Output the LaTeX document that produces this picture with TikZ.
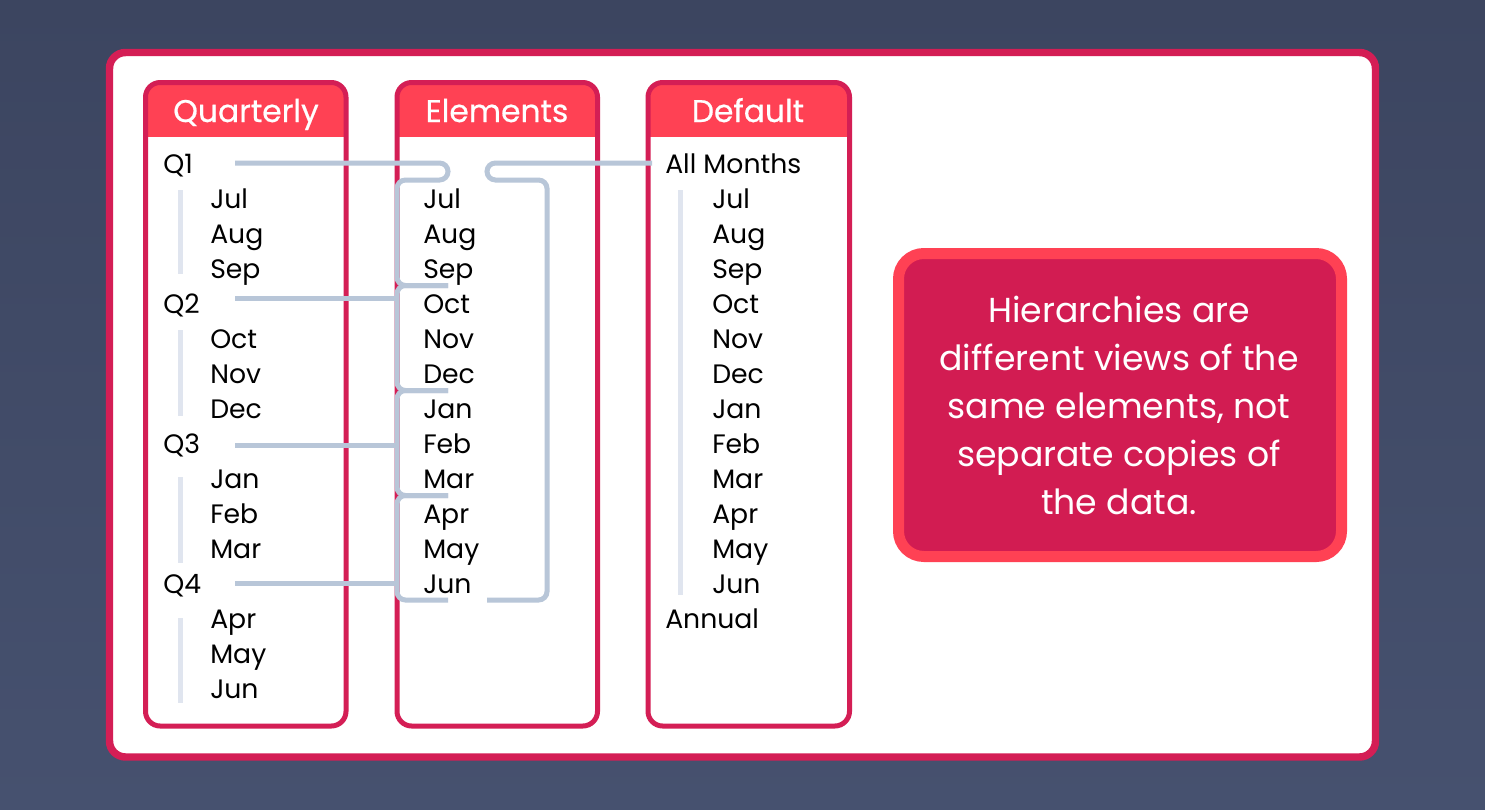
\documentclass[tikz,border=0pt]{standalone}
\usepackage{fontspec}
\setmainfont{Poppins}
\newfontfamily\headfont[FakeBold=0.6]{Poppins}
\usetikzlibrary{calc}

\definecolor{bgtop}{HTML}{3C4560}
\definecolor{bgbot}{HTML}{46516F}
\definecolor{crimson}{HTML}{D41E55}
\definecolor{coral}{HTML}{FF4154}
\definecolor{linkblue}{HTML}{B8C6D8}
\definecolor{barblue}{HTML}{E0E5EF}
\definecolor{notefill}{HTML}{D21C52}

\begin{document}
\begin{tikzpicture}[x=0.75pt,y=-0.75pt,
  item/.style={anchor=base west,inner sep=0pt,font=\fontsize{20}{24}\selectfont},
  head/.style={anchor=base,inner sep=0pt,text=white,font=\headfont\fontsize{23.5}{28}\selectfont},
  note/.style={align=center,inner sep=0pt,text=white,font=\fontsize{26}{36}\selectfont},
  link/.style={draw=linkblue,line width=3.75pt,rounded corners=6.375pt},
  bar/.style={draw=barblue,line width=3.75pt},
  column/.style={draw=crimson,line width=3.75pt,rounded corners=11pt}]

% Draw the background and the white panel
\shade[top color=bgtop,bottom color=bgbot] (0,0) rectangle (1485,810);
\useasboundingbox (0,0) rectangle (1485,810);
\draw[crimson,fill=white,line width=5.6pt,rounded corners=12pt] (109.5,52.5) rectangle (1375.5,757);

% Draw the three columns with their headers
\begin{scope}
\clip[rounded corners=11pt] (145.5,82.5) rectangle (346,726);
\fill[coral] (145.5,82.5) rectangle (346,137);
\end{scope}
\draw[column] (145.5,82.5) rectangle (346,726);
\begin{scope}
\clip[rounded corners=11pt] (397,82.5) rectangle (597.5,726);
\fill[coral] (397,82.5) rectangle (597.5,137);
\end{scope}
\draw[column] (397,82.5) rectangle (597.5,726);
\begin{scope}
\clip[rounded corners=11pt] (648,82.5) rectangle (849.5,726);
\fill[coral] (648,82.5) rectangle (849.5,137);
\end{scope}
\draw[column] (648,82.5) rectangle (849.5,726);
\node[head] (hq) at (246,122) {Quarterly};
\node[head] (he) at (497,122) {Elements};
\node[head] (hd) at (748,122) {Default};

% Draw the quarterly hierarchy
\draw[bar] (180,190) -- (180,274);
\draw[bar] (180,330) -- (180,416);
\draw[bar] (180,477) -- (180,563);
\draw[bar] (180,618) -- (180,703);
\node[item] (q1) at (163,173) {Q1};
\node[item] (qjul) at (210,208) {Jul};
\node[item] (qaug) at (210,243) {Aug};
\node[item] (qsep) at (210,278) {Sep};
\node[item] (q2) at (163,313) {Q2};
\node[item] (qoct) at (210,348) {Oct};
\node[item] (qnov) at (210,383) {Nov};
\node[item] (qdec) at (210,418) {Dec};
\node[item] (q3) at (163,453) {Q3};
\node[item] (qjan) at (210,488) {Jan};
\node[item] (qfeb) at (210,523) {Feb};
\node[item] (qmar) at (210,558) {Mar};
\node[item] (q4) at (163,593) {Q4};
\node[item] (qapr) at (210,628) {Apr};
\node[item] (qmay) at (210,663) {May};
\node[item] (qjun) at (210,698) {Jun};

% Draw the elements
\node[item] (ejul) at (423,208) {Jul};
\node[item] (eaug) at (423,243) {Aug};
\node[item] (esep) at (423,278) {Sep};
\node[item] (eoct) at (423,313) {Oct};
\node[item] (enov) at (423,348) {Nov};
\node[item] (edec) at (423,383) {Dec};
\node[item] (ejan) at (423,418) {Jan};
\node[item] (efeb) at (423,453) {Feb};
\node[item] (emar) at (423,488) {Mar};
\node[item] (eapr) at (423,523) {Apr};
\node[item] (emay) at (423,558) {May};
\node[item] (ejun) at (423,593) {Jun};

% Draw the default hierarchy
\draw[bar] (680.5,190) -- (680.5,595);
\node[item] (all) at (665,173) {All Months};
\node[item] (djul) at (712,208) {Jul};
\node[item] (daug) at (712,243) {Aug};
\node[item] (dsep) at (712,278) {Sep};
\node[item] (doct) at (712,313) {Oct};
\node[item] (dnov) at (712,348) {Nov};
\node[item] (ddec) at (712,383) {Dec};
\node[item] (djan) at (712,418) {Jan};
\node[item] (dfeb) at (712,453) {Feb};
\node[item] (dmar) at (712,488) {Mar};
\node[item] (dapr) at (712,523) {Apr};
\node[item] (dmay) at (712,558) {May};
\node[item] (djun) at (712,593) {Jun};
\node[item] (ann) at (665,628) {Annual};

% Draw the links between the hierarchies and the elements
\coordinate (l1) at (235,163);
\coordinate (l2) at (235,298);
\coordinate (l3) at (235,445);
\coordinate (l4) at (235,583);
\coordinate (l5) at (652,163);
\draw[link] (l1) -- (448,163) -- (448,180) -- (397,180) -- (397,285.5) -- (448,285.5);
\draw[link] (448,285.5) -- (397,285.5) -- (397,390.5) -- (448,390.5);
\draw[link] (448,390.5) -- (397,390.5) -- (397,495.5) -- (448,495.5);
\draw[link] (448,495.5) -- (397,495.5) -- (397,600) -- (448,600);
\draw[link] (l2) -- (397,298);
\draw[link] (l3) -- (397,445);
\draw[link] (l4) -- (397,583);
\draw[link] (l5) -- (487,163) -- (487,180) -- (547,180) -- (547,600) -- (487,600);

% Draw the note
\draw[coral,fill=notefill,line width=8.25pt,rounded corners=19pt] (898.5,253.5) rectangle (1341.5,556.5);
\node[note] (msg) at (1119,405) {Hierarchies are\\different views of the\\same elements, not\\separate copies of\\the data.};
\end{tikzpicture}
\end{document}
